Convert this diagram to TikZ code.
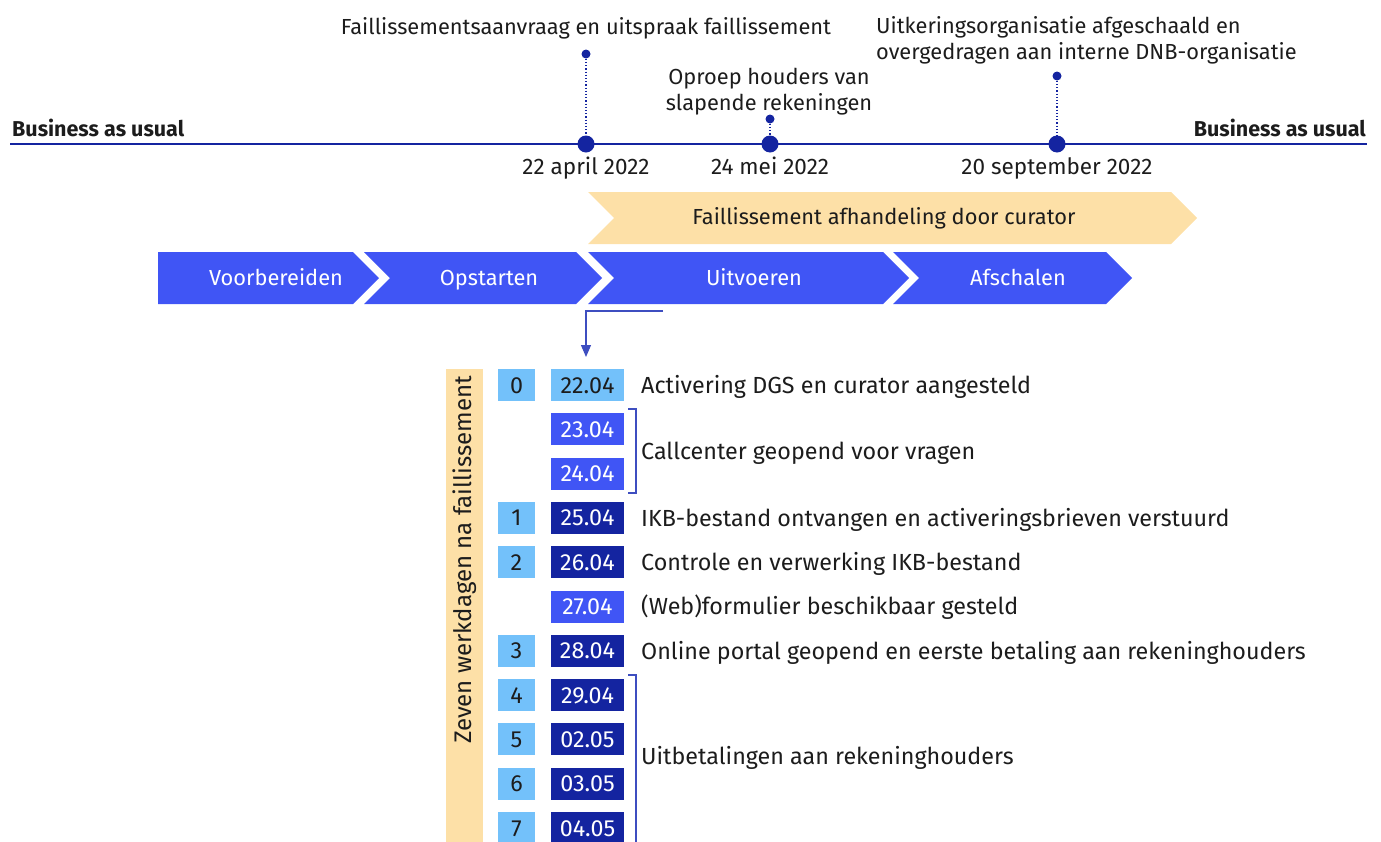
\documentclass[tikz,border=0pt]{standalone}
\usepackage{fontspec}
\setmainfont{Fira Sans}
\usetikzlibrary{arrows.meta,positioning}

\definecolor{dnbnavy}{RGB}{20,36,160}
\definecolor{dnbblue}{RGB}{64,85,245}
\definecolor{dnblight}{RGB}{115,193,250}
\definecolor{dnbsand}{RGB}{253,224,167}
\definecolor{dnbline}{RGB}{62,78,192}
\definecolor{inkblack}{RGB}{28,28,28}

\begin{document}
\begin{tikzpicture}[
    x = 1pt, y = -1pt,
    > = {Triangle[width=10pt,length=12pt]},
    txt/.style = {inner sep=0pt, text=inkblack, font=\fontsize{23.3}{27}\selectfont,
                  text height=20pt, text depth=4pt},
    small/.style = {txt, font=\fontsize{21.8}{26}\selectfont},
    when/.style = {txt, font=\fontsize{22.5}{26}\selectfont},
    bau/.style = {txt, font=\fontsize{21.5}{26}\selectfont\bfseries},
    phase/.style = {small, text=white},
    bigdot/.style = {circle, fill=dnbnavy, inner sep=0pt, minimum size=17pt},
    tinydot/.style = {circle, fill=dnbnavy, inner sep=0pt, minimum size=9pt},
    daybox/.style = {txt, fill=dnblight, minimum width=37pt, minimum height=32pt},
    datebox/.style = {txt, minimum width=73pt, minimum height=32pt},
    dlight/.style = {datebox, fill=dnblight},
    dmid/.style = {datebox, fill=dnbblue, text=white},
    ddark/.style = {datebox, fill=dnbnavy, text=white}
]
    \useasboundingbox (0,0) rectangle (1381,841);

    % timeline
    \draw[dnbnavy, line width=2.8pt] (10,144) -- (1367,144);
    \node[bau, anchor=west] (bauleft) at (12,128) {Business as usual};
    \node[bau, anchor=east] (bauright) at (1366,128) {Business as usual};

    \node[bigdot] (e1) at (586,144) {};
    \node[bigdot] (e2) at (770,144) {};
    \node[bigdot] (e3) at (1057,144) {};
    \node[tinydot] (t1) at (586,54) {};
    \node[tinydot] (t2) at (770,119) {};
    \node[tinydot] (t3) at (1057,76) {};
    \foreach \k in {1,2,3}
        \draw[dnbnavy, dotted, line width=1.2pt] (t\k) -- (e\k);

    \node[small] (lab1) at (586,26) {Faillissementsaanvraag en uitspraak faillissement};
    \node[small, align=center] (lab2) at (769,102) {Oproep houders van\\slapende rekeningen};
    \node[small, align=left, anchor=west] (lab3) at (876,51) {Uitkeringsorganisatie afgeschaald en\\overgedragen aan interne DNB-organisatie};

    \node[when] (date1) at (586,166) {22 april 2022};
    \node[when] (date2) at (770,166) {24 mei 2022};
    \node[when] (date3) at (1057,166) {20 september 2022};

    % phases
    \fill[dnbsand] (588,192) -- (1171,192) -- (1197,218) -- (1171,244) -- (588,244) -- (614,218) -- cycle;
    \node[small] (curator) at (884,216) {Faillissement afhandeling door curator};

    \fill[dnbblue] (158,252) -- (353,252) -- (379,278) -- (353,304) -- (158,304) -- cycle;
    \fill[dnbblue] (364,252) -- (576,252) -- (602,278) -- (576,304) -- (364,304) -- (390,278) -- cycle;
    \fill[dnbblue] (588,252) -- (883,252) -- (909,278) -- (883,304) -- (588,304) -- (614,278) -- cycle;
    \fill[dnbblue] (893,252) -- (1106,252) -- (1132,278) -- (1106,304) -- (893,304) -- (919,278) -- cycle;
    \node[phase] (ph1) at (276,277) {Voorbereiden};
    \node[phase] (ph2) at (489,277) {Opstarten};
    \node[phase] (ph3) at (754,277) {Uitvoeren};
    \node[phase] (ph4) at (1018,277) {Afschalen};

    % seven working days
    \fill[dnbsand] (446,369) rectangle (483,845);
    \node[txt, rotate=90, font=\fontsize{24}{26}\selectfont] (zeven) at (463,560) {Zeven werkdagen na faillissement};

    \foreach \i/\d in {0/0, 3/1, 4/2, 6/3, 7/4, 8/5, 9/6, 10/7}
        \node[daybox] (n\i) at (516.5,385+44.3*\i) {\d};
    \foreach \i/\dt/\st in {0/22.04/dlight, 1/23.04/dmid, 2/24.04/dmid, 3/25.04/ddark,
                            4/26.04/ddark, 5/27.04/dmid, 6/28.04/ddark, 7/29.04/ddark,
                            8/02.05/ddark, 9/03.05/ddark, 10/04.05/ddark}
        \node[\st] (d\i) at (587.5,385+44.3*\i) {\dt};

    \coordinate (arrstart) at (663,311);
    \coordinate (arrend) at (586,357);
    \draw[dnbline, line width=1.2pt, ->, >={Triangle[width=10pt,length=12pt]}] (arrstart) -| (arrend);

    \draw[dnbline, line width=1.2pt] (628,409) -- (636,409) -- (636,493) -- (628,493);
    \draw[dnbline, line width=1.2pt] (628,675) -- (636,675) -- (636,845);

    \node[txt, anchor=west] (act0) at (641,385) {Activering DGS en curator aangesteld};
    \node[txt, anchor=west] (act1) at (641,451) {Callcenter geopend voor vragen};
    \node[txt, anchor=west] (act3) at (641,518) {IKB-bestand ontvangen en activeringsbrieven verstuurd};
    \node[txt, anchor=west] (act4) at (641,562) {Controle en verwerking IKB-bestand};
    \node[txt, anchor=west] (act5) at (641,606) {(Web)formulier beschikbaar gesteld};
    \node[txt, anchor=west] (act6) at (641,651) {Online portal geopend en eerste betaling aan rekeninghouders};
    \node[txt, anchor=west] (act7) at (641,756) {Uitbetalingen aan rekeninghouders};
\end{tikzpicture}
\end{document}
